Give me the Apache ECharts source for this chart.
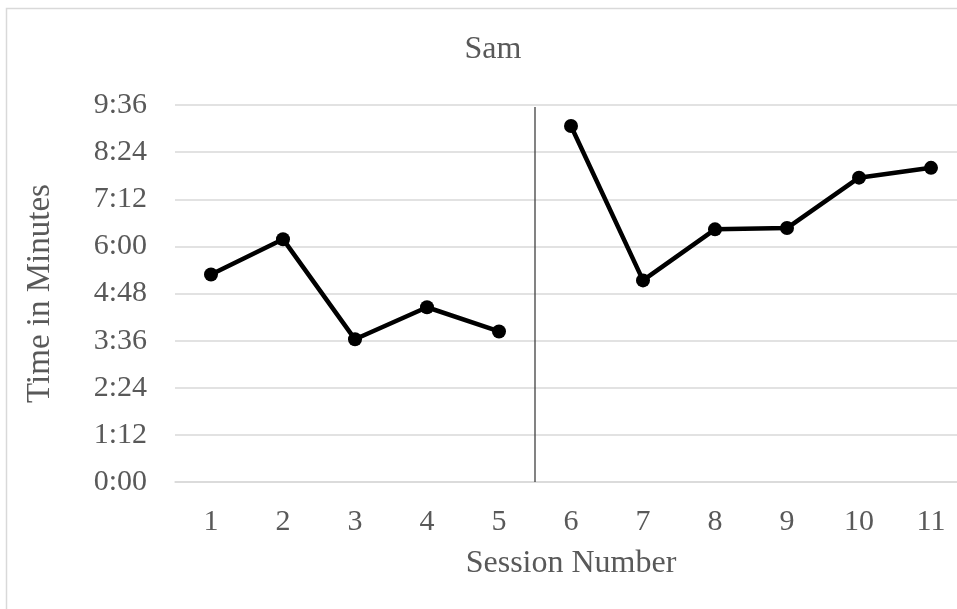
<!DOCTYPE html>
<html>
<head>
<meta charset="utf-8">
<script src="https://cdn.jsdelivr.net/npm/echarts@6/dist/echarts.min.js"></script>
<style>
html,body{margin:0;padding:0;background:#fff;}
#chart{width:957px;height:609px;}
</style>
</head>
<body>
<div id="chart"></div>
<script>
// Data (times in seconds)
const sessions = ['1','2','3','4','5','6','7','8','9','10','11'];
const baselineTimes = [317, 371, 218, 267, 230, null, null, null, null, null, null];
const interventionTimes = [null, null, null, null, null, 544, 308, 386, 388, 465, 480];
const phaseChangeAt = 5.5;     // between session 5 and 6
const yMax = 576;              // 9:36
const yStep = 72;              // 1:12
const titleText = 'Sam';
const xName = 'Session Number';
const yName = 'Time in Minutes';

const FONT = '"Times New Roman", "Liberation Serif", serif';
const TXT = '#595959';

function fmt(v){
  const m = Math.floor(v/60), s = Math.round(v%60);
  return m + ':' + (s<10?'0':'') + s;
}

const chart = echarts.init(document.getElementById('chart'), null, {renderer:'canvas'});
const lineStyle = {color:'#000', width:4.5};
chart.setOption({
  backgroundColor:'#fff',
  animation:false,
  title:{
    text:titleText, left:488, top:29, textAlign:'center',
    textStyle:{fontFamily:FONT, fontSize:32, fontWeight:'normal', color:TXT}
  },
  graphic:[{
    type:'rect', shape:{x:6.5, y:8.5, width:1000, height:700},
    style:{fill:null, stroke:'#d9d9d9', lineWidth:1.5}, silent:true
  }],
  grid:{left:175, top:105, width:792, height:377, outerBoundsMode:'none', containLabel:false},
  xAxis:[{
    type:'category', data:sessions, boundaryGap:true,
    name:xName, nameLocation:'middle', nameGap:66,
    nameTextStyle:{fontFamily:FONT, fontSize:32, color:TXT},
    axisLine:{show:true, lineStyle:{color:'#d9d9d9', width:1.5}},
    axisTick:{show:false},
    axisLabel:{fontFamily:FONT, fontSize:30, color:TXT, margin:25},
    splitLine:{show:false}
  },{
    type:'value', min:0.5, max:11.5, show:false
  }],
  yAxis:{
    type:'value', min:0, max:yMax, interval:yStep,
    name:yName, nameLocation:'middle', nameGap:118,
    nameTextStyle:{fontFamily:FONT, fontSize:33, color:TXT},
    axisLine:{show:false}, axisTick:{show:false},
    axisLabel:{fontFamily:FONT, fontSize:30, color:TXT, margin:28, formatter:fmt},
    splitLine:{lineStyle:{color:'#d9d9d9', width:1.5}}
  },
  series:[{
    type:'line', data:baselineTimes, xAxisIndex:0,
    symbol:'circle', symbolSize:14, itemStyle:{color:'#000'}, lineStyle:lineStyle
  },{
    type:'line', data:interventionTimes, xAxisIndex:0,
    symbol:'circle', symbolSize:14, itemStyle:{color:'#000'}, lineStyle:lineStyle
  },{
    type:'line', xAxisIndex:1, data:[[phaseChangeAt,0],[phaseChangeAt,573]],
    symbol:'none', lineStyle:{color:'#404040', width:1.3}, z:1
  }]
});
</script>
</body>
</html>
